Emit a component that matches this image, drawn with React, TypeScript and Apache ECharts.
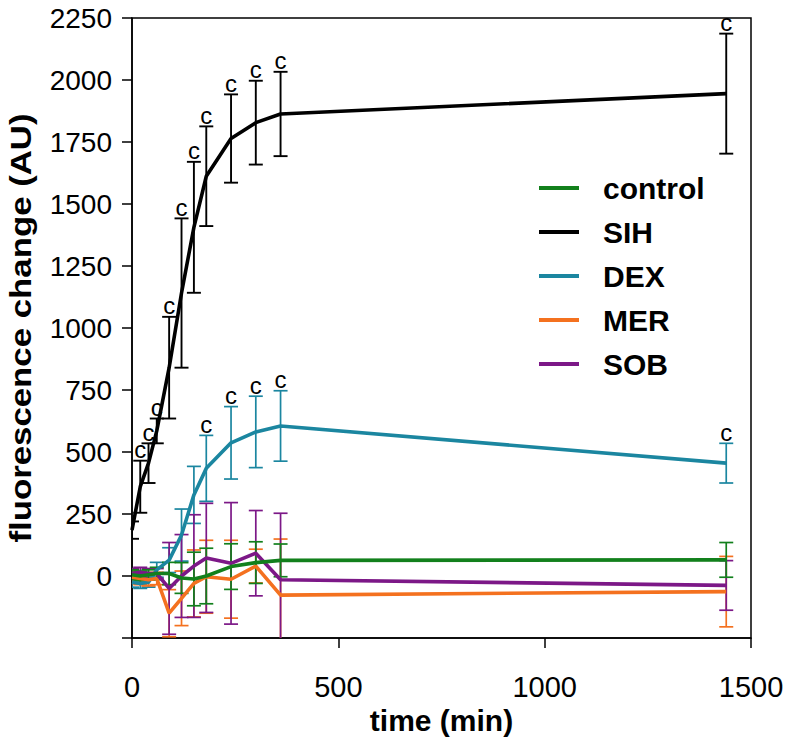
import React, { useEffect, useRef } from "react";
import * as echarts from "echarts";

const times = [0, 20, 40, 60, 90, 120, 150, 180, 240, 300, 360, 1440];

const controlMean = [5, 0, 5, 10, 10, -8, -12, 0, 38, 54, 63, 65];
const controlErr = [20, 20, 20, 25, 45, 62, 108, 112, 92, 84, 66, 70];

const sihMean = [185, 360, 455, 585, 840, 1141, 1406, 1612, 1764, 1828, 1863, 1945];
const sihErr = [35, 105, 80, 50, 205, 301, 264, 201, 178, 169, 170, 242];

const dexMean = [-25, -30, -25, 25, 64, 165, 327, 434, 537, 581, 605, 455];
const dexErr = [20, 20, 20, 30, 50, 105, 115, 133, 146, 144, 142, 80];

const merMean = [-5, -10, -15, -10, -150, -90, -30, -3, -13, 40, -77, -63];
const merErr = [25, 25, 25, 25, 95, 110, 135, 147, 157, 68, 226, 142];

const sobMean = [10, 15, 10, 10, -50, 0, 40, 73, 51, 92, -15, -38];
const sobErr = [20, 20, 20, 20, 185, 167, 207, 220, 245, 172, 268, 100];

// indices of time points marked "c"
const sihSig = [1, 2, 3, 4, 5, 6, 7, 8, 9, 10, 11];
const dexSig = [7, 8, 9, 10, 11];

const legendNames = ["control", "SIH", "DEX", "MER", "SOB"];

const FONT = "'Liberation Sans', Arial, Helvetica, sans-serif";

const COLORS: Record<string, string> = {
  control: "#12801c",
  SIH: "#000000",
  DEX: "#1b86a0",
  MER: "#f4711f",
  SOB: "#7c1887",
};

function errorSeries(name: string, mean: number[], err: number[], width: number) {
  const color = COLORS[name];
  return {
    type: "custom",
    name: name + "-err",
    z: 2,
    clip: true,
    data: times.map((t, i) => [t, mean[i] - err[i], mean[i] + err[i]]),
    renderItem: (params: any, api: any) => {
      const x = api.value(0);
      const pLo = api.coord([x, api.value(1)]);
      const pHi = api.coord([x, api.value(2)]);
      const hw = 7;
      const style = { stroke: color, lineWidth: width, fill: "none" };
      return {
        type: "group",
        children: [
          { type: "line", shape: { x1: pLo[0], y1: pLo[1], x2: pHi[0], y2: pHi[1] }, style },
          { type: "line", shape: { x1: pLo[0] - hw, y1: pLo[1], x2: pLo[0] + hw, y2: pLo[1] }, style },
          { type: "line", shape: { x1: pHi[0] - hw, y1: pHi[1], x2: pHi[0] + hw, y2: pHi[1] }, style },
        ],
      };
    },
  };
}

function lineSeries(name: string, mean: number[], z: number) {
  return {
    type: "line",
    name,
    z,
    symbol: "none",
    showSymbol: false,
    data: times.map((t, i) => [t, mean[i]]),
    lineStyle: { color: COLORS[name], width: 3.6 },
    itemStyle: { color: COLORS[name] },
  };
}

function sigSeries(name: string, mean: number[], err: number[], idx: number[]) {
  return {
    type: "custom",
    name: name + "-sig",
    z: 4,
    clip: false,
    data: idx.map((i) => [times[i], mean[i] + err[i]]),
    renderItem: (params: any, api: any) => {
      const p = api.coord([api.value(0), api.value(1)]);
      return {
        type: "text",
        x: p[0],
        y: p[1] + 1,
        style: {
          text: "c",
          fontSize: 24,
          fontFamily: FONT,
          fill: "#000",
          align: "center",
          verticalAlign: "bottom",
        },
      };
    },
  };
}

export default function App() {
  const ref = useRef<HTMLDivElement>(null);
  useEffect(() => {
    if (!ref.current) return;
    const chart = echarts.init(ref.current, undefined, { renderer: "svg" });
    chart.setOption({
      animation: false,
      backgroundColor: "#ffffff",
      textStyle: { fontFamily: FONT },
      grid: {
        left: 132,
        right: 42,
        top: 18,
        bottom: 99,
        containLabel: false,
        outerBoundsMode: "none",
        show: true,
        borderColor: "#000",
        borderWidth: 1.5,
        backgroundColor: "transparent",
      },
      legend: {
        data: legendNames,
        orient: "vertical",
        left: 539,
        top: 173,
        padding: 0,
        icon: "rect",
        itemWidth: 40,
        itemHeight: 4,
        itemGap: 14,
        textStyle: {
          fontSize: 30,
          lineHeight: 30,
          fontWeight: "bold",
          color: "#000",
          fontFamily: FONT,
          padding: [0, 0, 0, 19],
        },
      },
      graphic: [
        {
          type: "text",
          x: 21,
          y: 328,
          rotation: Math.PI / 2,
          scaleX: 1.2,
          style: {
            text: "fluorescence change (AU)",
            fontSize: 29,
            fontWeight: "bold",
            fontFamily: FONT,
            fill: "#000",
            align: "center",
            verticalAlign: "middle",
          },
        },
      ],
      xAxis: {
        type: "value",
        min: 0,
        max: 1500,
        interval: 500,
        name: "time (min)",
        nameLocation: "middle",
        nameGap: 54,
        nameTextStyle: { fontSize: 30, fontWeight: "bold", color: "#000", fontFamily: FONT },
        axisLine: { show: true, onZero: false, lineStyle: { color: "#000", width: 1.5 } },
        axisTick: { show: true, length: 10, lineStyle: { color: "#000", width: 1.5 } },
        axisLabel: {
          fontSize: 29,
          color: "#000",
          margin: 34,
          fontFamily: FONT,
          formatter: (v: number) => String(v),
        },
        splitLine: { show: false },
      },
      yAxis: {
        type: "value",
        min: -250,
        max: 2250,
        interval: 250,
        axisLine: { show: true, onZero: false, lineStyle: { color: "#000", width: 1.5 } },
        axisTick: { show: true, length: 10, lineStyle: { color: "#000", width: 1.5 } },
        axisLabel: {
          fontSize: 28,
          color: "#000",
          margin: 20,
          fontFamily: FONT,
          formatter: (v: number) => (v === -250 ? "" : String(v)),
        },
        splitLine: { show: false },
      },
      series: [
        errorSeries("DEX", dexMean, dexErr, 1.7),
        errorSeries("MER", merMean, merErr, 1.7),
        errorSeries("SOB", sobMean, sobErr, 1.7),
        errorSeries("control", controlMean, controlErr, 1.7),
        errorSeries("SIH", sihMean, sihErr, 1.9),
        lineSeries("DEX", dexMean, 3),
        lineSeries("MER", merMean, 3),
        lineSeries("SOB", sobMean, 3),
        lineSeries("control", controlMean, 3),
        lineSeries("SIH", sihMean, 3),
        sigSeries("SIH", sihMean, sihErr, sihSig),
        sigSeries("DEX", dexMean, dexErr, dexSig),
      ],
    });
    return () => chart.dispose();
  }, []);
  return (
    <div
      ref={ref}
      style={{ position: "fixed", left: 0, top: 0, width: 793, height: 737, background: "#fff" }}
    />
  );
}
